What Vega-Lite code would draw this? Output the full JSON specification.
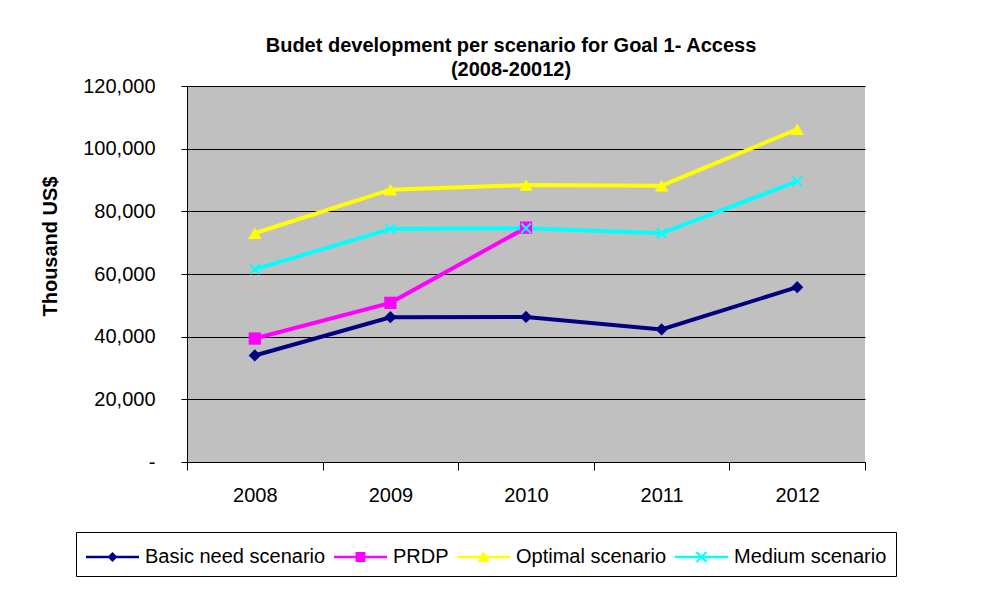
{
  "$schema": "https://vega.github.io/schema/vega-lite/v6.json",
  "width": 678,
  "height": 376,
  "autosize": {"type": "none"},
  "padding": {"left": 187, "top": 86, "right": 139, "bottom": 127},
  "background": "white",
  "title": {
    "text": ["Budet development per scenario for Goal 1- Access", "(2008-20012)"],
    "font": "Liberation Sans",
    "fontSize": 20,
    "fontWeight": "bold",
    "color": "black",
    "anchor": "middle",
    "baseline": "bottom",
    "lineHeight": 24,
    "offset": -24,
    "dx": -15
  },
  "config": {
    "view": {"fill": "#C0C0C0", "stroke": null},
    "font": "Liberation Sans",
    "axis": {
      "labelFont": "Liberation Sans",
      "labelFontSize": 20,
      "labelColor": "black",
      "domainColor": "black",
      "tickColor": "black",
      "titleColor": "black"
    },
    "legend": {
      "labelFont": "Liberation Sans",
      "labelFontSize": 20,
      "labelColor": "black",
      "labelLimit": 400
    }
  },
  "data": {
    "values": [
      {"year": "2008", "series": "Basic need scenario", "value": 34000},
      {"year": "2009", "series": "Basic need scenario", "value": 46200},
      {"year": "2010", "series": "Basic need scenario", "value": 46300},
      {"year": "2011", "series": "Basic need scenario", "value": 42300},
      {"year": "2012", "series": "Basic need scenario", "value": 55800},
      {"year": "2008", "series": "PRDP", "value": 39400},
      {"year": "2009", "series": "PRDP", "value": 50800},
      {"year": "2010", "series": "PRDP", "value": 74800},
      {"year": "2008", "series": "Optimal scenario", "value": 73000},
      {"year": "2009", "series": "Optimal scenario", "value": 86900},
      {"year": "2010", "series": "Optimal scenario", "value": 88400},
      {"year": "2011", "series": "Optimal scenario", "value": 88200},
      {"year": "2012", "series": "Optimal scenario", "value": 106200},
      {"year": "2008", "series": "Medium scenario", "value": 61500},
      {"year": "2009", "series": "Medium scenario", "value": 74400},
      {"year": "2010", "series": "Medium scenario", "value": 74600},
      {"year": "2011", "series": "Medium scenario", "value": 73000},
      {"year": "2012", "series": "Medium scenario", "value": 89600}
    ]
  },
  "encoding": {
    "x": {
      "field": "year",
      "type": "ordinal",
      "scale": {"type": "band", "paddingInner": 0, "paddingOuter": 0},
      "axis": {
        "title": null,
        "labelAngle": 0,
        "tickBand": "extent",
        "tickSize": 8,
        "labelPadding": 15,
        "grid": false,
        "domainWidth": 1,
        "tickWidth": 1
      }
    },
    "y": {
      "field": "value",
      "type": "quantitative",
      "scale": {"domain": [0, 120000], "nice": false},
      "axis": {
        "title": "Thousand US$",
        "titleFont": "Liberation Sans",
        "titleFontSize": 20,
        "titleFontWeight": "bold",
        "titleAngle": -90,
        "titleX": -137,
        "titleY": 160,
        "titleAlign": "center",
        "titleBaseline": "middle",
        "values": [0, 20000, 40000, 60000, 80000, 100000, 120000],
        "labelExpr": "datum.value == 0 ? '-' : format(datum.value, ',')",
        "tickSize": 6,
        "labelPadding": 26,
        "grid": true,
        "gridColor": "black",
        "gridWidth": 1,
        "gridOpacity": 1
      }
    }
  },
  "layer": [
    {
      "mark": {"type": "line", "strokeWidth": 4},
      "encoding": {
        "stroke": {
          "field": "series",
          "type": "nominal",
          "scale": {
            "domain": ["Medium scenario", "Optimal scenario", "PRDP", "Basic need scenario"],
            "range": ["#00FFFF", "#FFFF00", "#FF00FF", "#000080"]
          },
          "legend": null
        }
      }
    },
    {
      "transform": [{"filter": "datum.series == 'Basic need scenario'"}],
      "mark": {"type": "point", "shape": "diamond", "size": 150, "filled": true, "opacity": 1, "strokeWidth": 0, "color": "#000080"}
    },
    {
      "transform": [{"filter": "datum.series == 'PRDP'"}],
      "mark": {"type": "point", "shape": "square", "size": 150, "filled": true, "opacity": 1, "strokeWidth": 0, "color": "#FF00FF"}
    },
    {
      "transform": [{"filter": "datum.series == 'Optimal scenario'"}],
      "mark": {"type": "point", "shape": "triangle-up", "size": 180, "filled": true, "opacity": 1, "strokeWidth": 0, "color": "#FFFF00"}
    },
    {
      "transform": [{"filter": "datum.series == 'Medium scenario'"}],
      "mark": {"type": "point", "shape": "M-0.8,-0.8L0.8,0.8M-0.8,0.8L0.8,-0.8", "size": 140, "filled": false, "strokeWidth": 2, "opacity": 1, "color": "#00FFFF"}
    },
    {
      "transform": [{"filter": "false"}],
      "mark": {"type": "point", "filled": true, "opacity": 1, "size": 900},
      "encoding": {
        "color": {
          "field": "series",
          "type": "nominal",
          "scale": {
            "domain": ["Basic need scenario", "PRDP", "Optimal scenario", "Medium scenario"],
            "range": ["#000080", "#FF00FF", "#FFFF00", "#00FFFF"]
          },
          "legend": {
            "title": null,
            "orient": "none",
            "legendX": -111,
            "legendY": 446,
            "direction": "horizontal",
            "columns": 4,
            "symbolSize": 900,
            "labelOffset": 28,
            "columnPadding": 7,
            "padding": 9,
            "strokeColor": "black",
            "fillColor": "white"
          }
        },
        "shape": {
          "field": "series",
          "type": "nominal",
          "scale": {
            "domain": ["Basic need scenario", "PRDP", "Optimal scenario", "Medium scenario"],
            "range": [
              "M-1,-0.083H2.533V0.083H-1Z M0.434,0L0.767,-0.333L1.1,0L0.767,0.333Z",
              "M-1,-0.083H2.533V0.083H-1Z M0.434,-0.333H1.1V0.333H0.434Z",
              "M-1,-0.083H2.533V0.083H-1Z M0.767,-0.4L1.167,0.33H0.367Z",
              "M-1,-0.083H2.533V0.083H-1Z M0.481,-0.38L1.147,0.286L1.053,0.38L0.387,-0.286Z M0.387,0.286L1.053,-0.38L1.147,-0.286L0.481,0.38Z"
            ]
          },
          "legend": {
            "title": null,
            "orient": "none",
            "legendX": -111,
            "legendY": 446,
            "direction": "horizontal",
            "columns": 4,
            "symbolSize": 900,
            "labelOffset": 28,
            "columnPadding": 7,
            "padding": 9,
            "strokeColor": "black",
            "fillColor": "white"
          }
        }
      }
    }
  ]
}
